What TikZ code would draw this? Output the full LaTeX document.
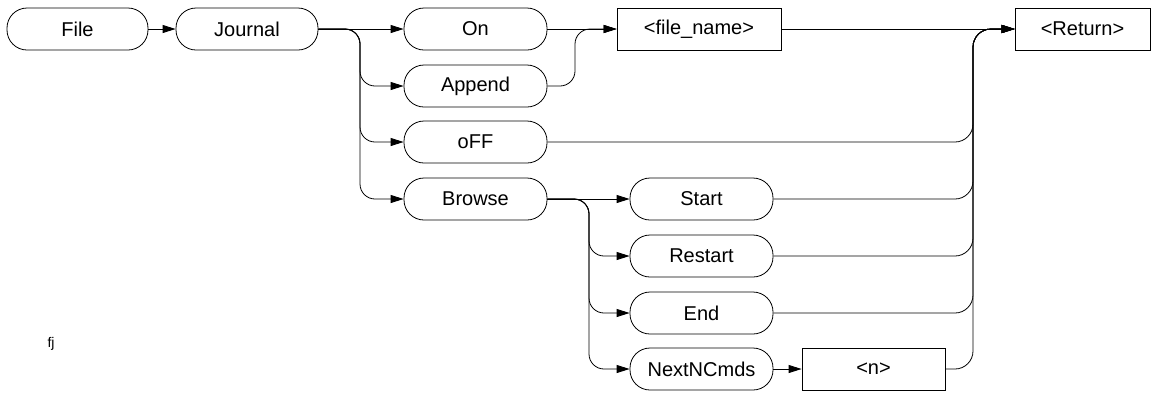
\documentclass[tikz,border=0pt]{standalone}
\usepackage{fontspec}
\setmainfont{Liberation Sans}
\usepackage{tikz}
\usetikzlibrary{arrows.meta}
\tikzset{
  kwbox/.style={draw,line width=0.8pt,rounded corners=20pt,minimum width=143pt,
                minimum height=42pt,inner sep=0pt,font=\fontsize{20}{24}\selectfont},
  parbox/.style={draw,line width=0.8pt,minimum height=42pt,inner sep=0pt,
                 font=\fontsize{20}{24}\selectfont},
  synarrow/.style={-{Triangle[length=13pt,width=8pt]},line width=0.8pt}}

\begin{document}
\begin{tikzpicture}[x=1pt,y=-1pt]
\useasboundingbox (0,0) rectangle (1151,392);

% keywords
\node[kwbox,minimum width=141pt] (file)    at (77.5,29)  {File};
\node[kwbox,minimum width=142pt] (journal) at (247,29)   {Journal};
\node[kwbox] (on)      at (475.5,29)  {On};
\node[kwbox] (append)  at (475.5,86)  {Append};
\node[kwbox] (off)     at (475.5,142) {oFF};
\node[kwbox] (browse)  at (475.5,199) {Browse};
\node[kwbox] (start)   at (701.5,199) {Start};
\node[kwbox] (restart) at (701.5,256) {Restart};
\node[kwbox] (end)     at (701.5,313) {End};
\node[kwbox] (nextn)   at (701.5,369) {NextNCmds};

% parameters
\node[parbox,minimum width=164pt] (fname)  at (699,29)    {<file\_name>};
\node[parbox,minimum width=135pt] (return) at (1082.5,29) {<Return>};
\node[parbox,minimum width=143pt] (nval)   at (873.5,369) {<n>};

\node[font=\fontsize{14}{16}\selectfont] (tag) at (51,344) {fj};

% split and merge points
\coordinate (jsplit) at (360,29);
\coordinate (bsplit) at (589,199);
\coordinate (amerge) at (575,29);
\coordinate (rmerge) at (973,29);

\draw[synarrow] (file) -- (journal);
\draw[synarrow] (journal) -- (on);
\foreach \n in {append,off,browse}
  \draw[synarrow,rounded corners=15pt] (journal.east) -- (jsplit) |- (\n.west);

\draw[synarrow] (browse) -- (start);
\foreach \n in {restart,end,nextn}
  \draw[synarrow,rounded corners=15pt] (browse.east) -- (bsplit) |- (\n.west);

\draw[synarrow] (on) -- (fname);
\draw[synarrow,rounded corners=15pt] (append.east) -| (amerge) -- (fname.west);

\draw[synarrow] (fname) -- (return);
\draw[synarrow] (nextn) -- (nval);
\foreach \n in {off,start,restart,end,nval}
  \draw[synarrow,rounded corners=18pt] (\n.east) -| (rmerge) -- (return.west);
\end{tikzpicture}
\end{document}
